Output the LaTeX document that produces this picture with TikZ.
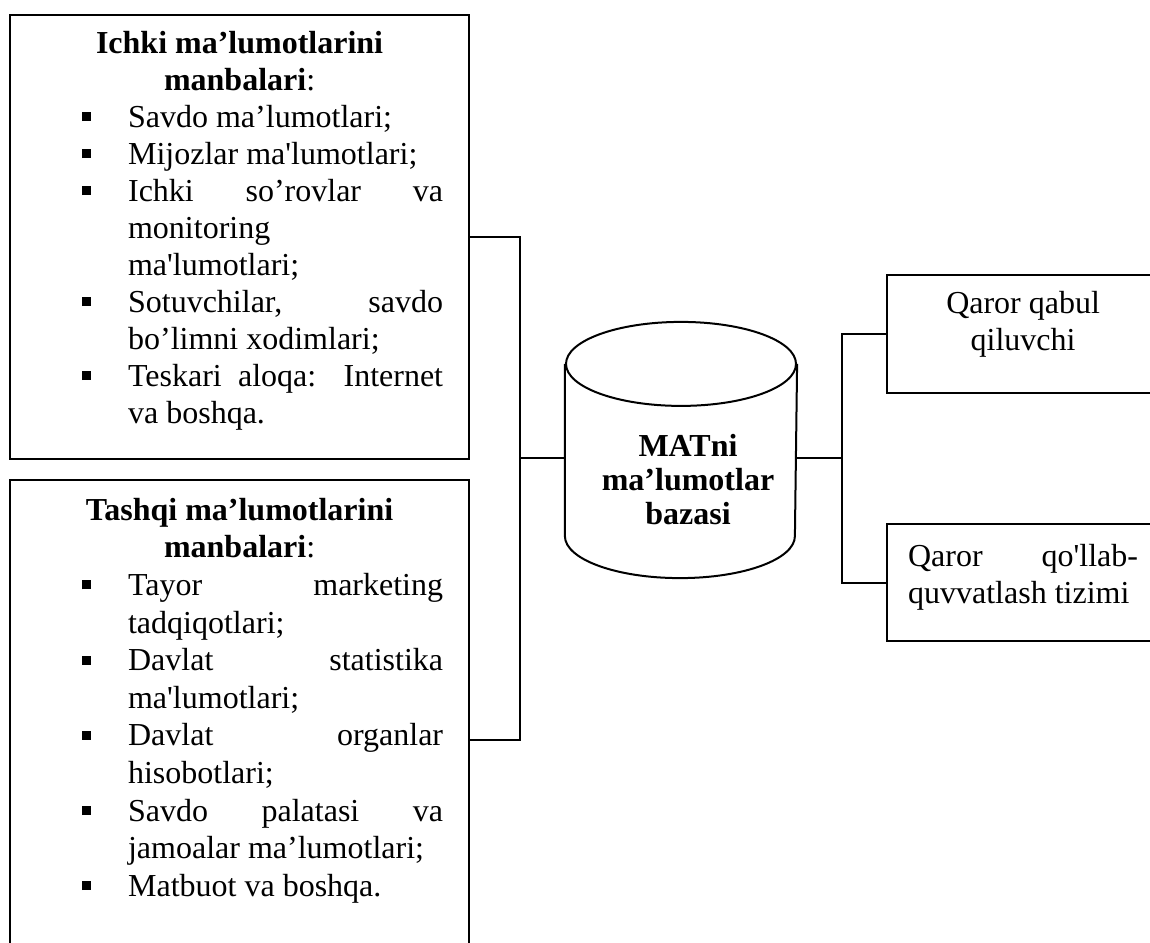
\documentclass[tikz,border=0pt]{standalone}
\usepackage{fontspec}
\setmainfont{Liberation Serif}
\usetikzlibrary{positioning}
\newenvironment{srclist}{\begin{list}{\rule[.19em]{.28em}{.28em}}{%
  \setlength\leftmargin{46pt}\setlength\labelwidth{4.5pt}\setlength\labelsep{18.75pt}%
  \setlength\topsep{0pt}\setlength\partopsep{0pt}\setlength\itemsep{0pt}\setlength\parsep{0pt}}}%
  {\end{list}}

\begin{document}
\begin{tikzpicture}[x=1pt,y=-1pt,line width=1.1pt,
  every node/.append style={font=\fontsize{16pt}{18.5pt}\selectfont},
  src/.style={draw,inner sep=0pt,anchor=north west,minimum width=229.5pt},
  dec/.style={draw,inner sep=0pt,anchor=north west,minimum width=136pt}]
  \useasboundingbox (0,0) rectangle (575,471);
  \clip (0,0) rectangle (575,471);
  \node[src,minimum height=222pt] (int) at (4.5,7) {\parbox[c][206pt][t]{203.5pt}{%
    {\centering\textbf{Ichki ma’lumotlarini}\\\textbf{manbalari}:\par}
    \begin{srclist}
      \item Savdo ma’lumotlari;
      \item Mijozlar ma\textquotesingle lumotlari;
      \item Ichki so’rovlar va\linebreak monitoring\newline ma\textquotesingle lumotlari;
      \item Sotuvchilar, savdo\linebreak bo’limni xodimlari;
      \item Teskari aloqa: Internet\linebreak va boshqa.
    \end{srclist}}};
  \node[src,minimum height=260pt,font=\fontsize{16pt}{18.8pt}\selectfont] (ext) at (4.5,239.5)
    {\parbox[c][242pt][t]{203.5pt}{%
    {\centering\textbf{Tashqi ma’lumotlarini}\\\textbf{manbalari}:\par}
    \begin{srclist}
      \item Tayor marketing\linebreak tadqiqotlari;
      \item Davlat statistika\linebreak ma\textquotesingle lumotlari;
      \item Davlat organlar\linebreak hisobotlari;
      \item Savdo palatasi va\linebreak jamoalar ma’lumotlari;
      \item Matbuot va boshqa.
    \end{srclist}}};
  % database drum
  \node[minimum width=115pt,minimum height=127pt,inner sep=0pt] (db) at (340.5,225) {};
  \draw[line width=1pt] ([yshift=-21pt]db.north) ellipse [x radius=57.5pt,y radius=21pt]
    ([yshift=-21pt]db.north west) -- ([yshift=21pt]db.south west)
    arc [start angle=180,end angle=360,x radius=57.5pt,y radius=21pt]
    -- ([yshift=-21pt]db.north east);
  \node[align=center,font=\fontsize{16pt}{17pt}\selectfont\bfseries] (dbname) at (344,240)
    {MATni\\ma’lumotlar\\bazasi};
  \node[dec,minimum height=59pt] (qq) at (443,137)
    {\parbox[c][43pt][t]{115pt}{\centering Qaror qabul\\qiluvchi}};
  \node[dec,minimum height=58.5pt] (dss) at (443,261.5)
    {\parbox[c][38.5pt][t]{115pt}{Qaror qo\textquotesingle llab-\linebreak quvvatlash tizimi}};
  \coordinate (lj) at (260,229);
  \coordinate (rj) at (421,229);
  \draw (int.east) -| (lj) |- (ext.east);
  \draw (lj) -- (db.west |- lj);
  \draw (db.east |- rj) -- (rj);
  \draw (qq.west) -| (rj) |- (dss.west);
\end{tikzpicture}
\end{document}
